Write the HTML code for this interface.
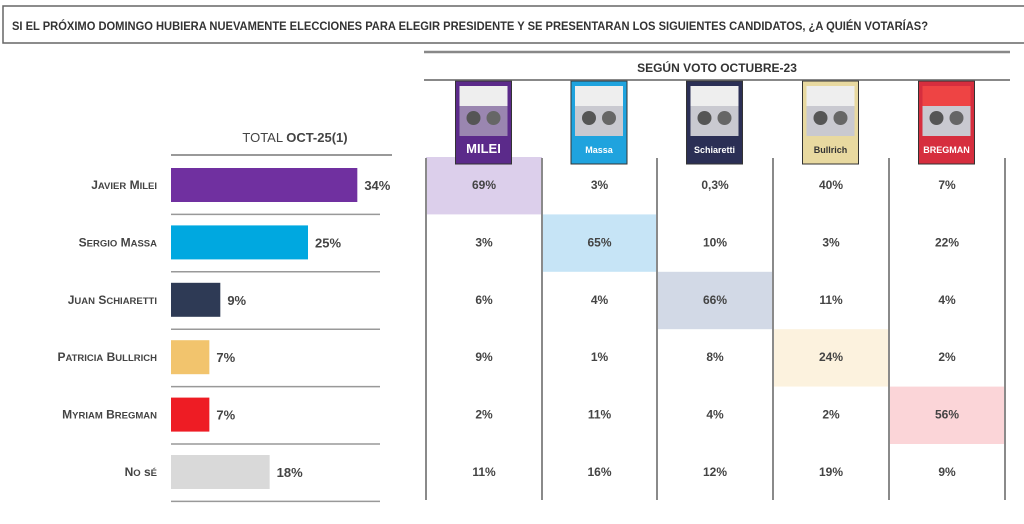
<!DOCTYPE html>
<html><head><meta charset="utf-8"><style>
html,body{margin:0;padding:0;background:#fff;}
svg{display:block;font-family:"Liberation Sans","DejaVu Sans",sans-serif;}
</style></head><body>
<svg id="c" width="1024" height="524" viewBox="0 0 1024 524">
<rect x="3" y="6" width="1030" height="37" fill="#fff" stroke="#666" stroke-width="1.5"/>
<text x="12" y="30" font-size="11.5" font-weight="bold" fill="#333" textLength="916" lengthAdjust="spacingAndGlyphs">SI EL PRÓXIMO DOMINGO HUBIERA NUEVAMENTE ELECCIONES PARA ELEGIR PRESIDENTE Y SE PRESENTARAN LOS SIGUIENTES CANDIDATOS, ¿A QUIÉN VOTARÍAS?</text>
<line x1="424" y1="52" x2="1010" y2="52" stroke="#888" stroke-width="2.5"/>
<line x1="424" y1="80" x2="1010" y2="80" stroke="#888" stroke-width="2"/>
<text x="717" y="72" font-size="12" font-weight="bold" fill="#333" text-anchor="middle">SEGÚN VOTO OCTUBRE-23</text>
<text x="295" y="142" font-size="13" fill="#444" text-anchor="middle">TOTAL <tspan font-weight="bold">OCT-25(1)</tspan></text>
<line x1="171" y1="155" x2="392" y2="155" stroke="#999" stroke-width="2"/>
<g id="g"></g>
</svg>
<script>
const candidates=["Javier Milei","Sergio Massa","Juan Schiaretti","Patricia Bullrich","Myriam Bregman","No sé"];
const totals=[34,25,9,7,7,18];
const colMilei=["69%","3%","6%","9%","2%","11%"];
const colMassa=["3%","65%","4%","1%","11%","16%"];
const colSchiaretti=["0,3%","10%","66%","8%","4%","12%"];
const colBullrich=["40%","3%","11%","24%","2%","19%"];
const colBregman=["7%","22%","4%","2%","56%","9%"];
const columns=[colMilei,colMassa,colSchiaretti,colBullrich,colBregman];
const ballotNames=["MILEI","Massa","Schiaretti","Bullrich","BREGMAN"];
const barColors=["#7030a0","#00a8e0","#2e3a55","#f2c46d","#ee1c24","#d9d9d9"];
const hiColors=["#dccfeb","#c6e4f6","#d2d9e6","#fcf2de","#fbd5d8"];
const ballotColors=["#5b2a8a","#1fa3de","#2b2f55","#e8d9a0","#d62e3e"];
const NS="http://www.w3.org/2000/svg";
const g=document.getElementById('g');
function mk(t,a,p){const e=document.createElementNS(NS,t);for(const k in a)e.setAttribute(k,a[k]);(p||g).appendChild(e);return e;}
const x0=171,pxPer=5.48;
const xs=v=>x0+v*pxPer;
const rowY=i=>157+i*57.4;
const colX=[426,542,657,773,889,1005];
columns.forEach((c,j)=>{
 const r=mk('rect',{x:colX[j],y:rowY(j),width:colX[j+1]-colX[j],height:57.4,fill:hiColors[j]});
 
 
});
colX.forEach(x=>{mk('line',{x1:x,y1:158,x2:x,y2:500,stroke:'#8a8a8a','stroke-width':2});});
candidates.forEach((n,i)=>{
 const cy=rowY(i)+28;
 const parts=n.split(' ');
 const t=mk('text',{x:157,y:cy+4,'font-size':12,'font-weight':'bold',fill:'#444','text-anchor':'end'});
 
 
 t.innerHTML=parts.map(p=>p[0]+'<tspan font-size="9.5">'+p.slice(1).toUpperCase()+'</tspan>').join(' ');
 const b=mk('rect',{x:x0,y:cy-17,width:xs(totals[i])-x0,height:34,fill:barColors[i]});
 
 
 const v=mk('text',{x:xs(totals[i])+7,y:cy+5,'font-size':13,'font-weight':'bold',fill:'#444'});
 
 
 v.textContent=totals[i]+'%';
 mk('line',{x1:x0,y1:rowY(i)+57.4,x2:380,y2:rowY(i)+57.4,stroke:'#999','stroke-width':1.5});
 columns.forEach((c,j)=>{
  const tx=mk('text',{x:(colX[j]+colX[j+1])/2,y:cy+4,'font-size':12,'font-weight':'bold',fill:'#444','text-anchor':'middle'});
  
  
  tx.textContent=c[i];
 });
});
ballotNames.forEach((n,j)=>{
 const cx=(colX[j]+colX[j+1])/2-0.5;
 const b=mk('rect',{x:cx-28,y:81,width:56,height:83,fill:ballotColors[j],stroke:'#333','stroke-width':1});
 
 
 mk('rect',{x:cx-24,y:86,width:48,height:20,fill:j==4?'#e44':'#eee'});
 mk('rect',{x:cx-24,y:106,width:48,height:30,fill:j==0?'#9a86b0':'#c9c9d0'});
 mk('circle',{cx:cx-10,cy:118,r:7,fill:'#555'});
 mk('circle',{cx:cx+10,cy:118,r:7,fill:'#666'});
 const t=mk('text',{x:cx,y:153,'font-size':j==0?13:9,'font-weight':'bold',fill:j==3?'#333':'#fff','text-anchor':'middle'});
 
 
 t.textContent=n;
});
</script>
</body></html>
